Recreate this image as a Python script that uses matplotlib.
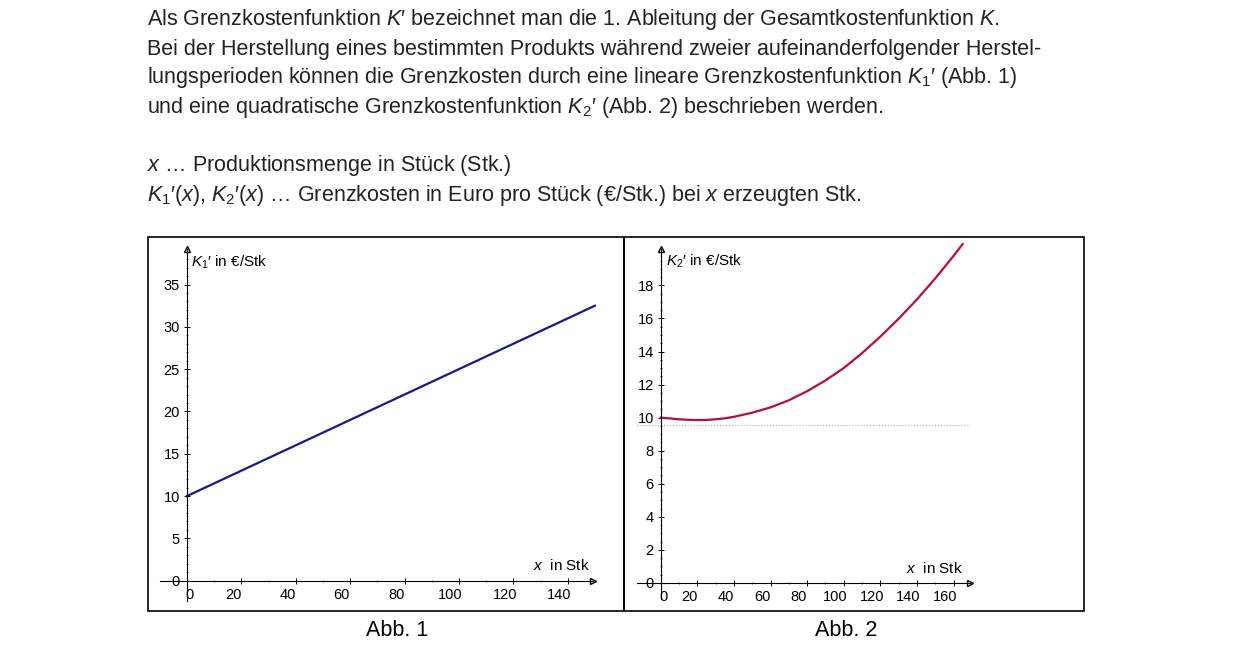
import numpy as np
import matplotlib.pyplot as plt
from matplotlib.patches import Rectangle
from matplotlib.transforms import ScaledTranslation

plt.rcParams['font.family'] = 'Liberation Sans'
plt.rcParams['mathtext.fontset'] = 'custom'
plt.rcParams['mathtext.rm'] = 'Liberation Sans'
plt.rcParams['mathtext.it'] = 'Liberation Sans:italic'

# daten
x1 = [0, 150]
k1 = [10, 32.5]

x2 = [0, 5, 10, 15, 20, 25, 30, 35, 40, 50, 60, 70, 80, 90, 100, 110, 120, 130, 140, 150, 160, 165]
k2 = [10.0, 9.95, 9.9, 9.87, 9.85, 9.86, 9.9, 9.96, 10.05, 10.3, 10.62, 11.05, 11.6, 12.25, 13.0, 13.9, 14.9, 15.98, 17.15, 18.42, 19.78, 20.5]
dotted_y = 9.58

W, H = 1240, 649
fig = plt.figure(figsize=(W / 100, H / 100), dpi=100)

def fx(px):
    return px / W

def fy(py):
    return 1 - py / H

# text oben
lines = [
    (20, "Als Grenzkostenfunktion $K$′ bezeichnet man die 1. Ableitung der Gesamtkostenfunktion $K$."),
    (49, "Bei der Herstellung eines bestimmten Produkts während zweier aufeinanderfolgender Herstel-"),
    (78, "lungsperioden können die Grenzkosten durch eine lineare Grenzkostenfunktion $K_1$′ (Abb. 1)"),
    (107, "und eine quadratische Grenzkostenfunktion $K_2$′ (Abb. 2) beschrieben werden."),
    (165, "$x$ … Produktionsmenge in Stück (Stk.)"),
    (195, "$K_1$′($x$), $K_2$′($x$) … Grenzkosten in Euro pro Stück (€/Stk.) bei $x$ erzeugten Stk."),
]
for py, t in lines:
    fig.text(fx(147), fy(py), t, fontsize=15.5, va='center', ha='left', color='#222222')

# rahmen
for x0, x1p in [(148, 624), (624, 1084)]:
    fig.patches.append(Rectangle((fx(x0), fy(611)), fx(x1p - x0), (611 - 237) / H,
                                 transform=fig.transFigure, fill=False, lw=1.2, ec='black'))

fig.text(fx(397), fy(630), "Abb. 1", fontsize=15.5, ha='center', va='center')
fig.text(fx(846), fy(630), "Abb. 2", fontsize=15.5, ha='center', va='center')


def setup(ax, xlim, ylim, xticks, yticks, xminor, yminor):
    ax.set_xlim(*xlim)
    ax.set_ylim(*ylim)
    ax.patch.set_visible(False)
    for s in ['top', 'right']:
        ax.spines[s].set_visible(False)
    ax.spines['left'].set_position(('data', 0))
    ax.spines['bottom'].set_position(('data', 0))
    ax.spines['left'].set_linewidth(0.8)
    ax.spines['bottom'].set_linewidth(0.8)
    ax.set_xticks(xticks)
    ax.set_yticks(yticks)
    ax.set_xticks(xminor, minor=True)
    ax.set_yticks(yminor, minor=True)
    ax.tick_params(direction='inout', length=4, width=0.7, labelsize=10.5, pad=3)
    ax.tick_params(which='minor', direction='inout', length=2, width=0.5)
    ax.set_xticklabels([str(v) for v in xticks])
    ax.set_yticklabels([str(v) for v in yticks])
    off = ScaledTranslation(-6 / 72, 0, fig.dpi_scale_trans)
    for lab in ax.get_xticklabels():
        lab.set_transform(lab.get_transform() + off)
    first = ax.get_xticklabels()[0]
    first.set_transform(first.get_transform() + ScaledTranslation(8 / 72, 0, fig.dpi_scale_trans))
    ax.plot(1, 0, '>', transform=ax.get_yaxis_transform(), clip_on=False, color='k', ms=4, mfc='none')
    ax.plot(0, 1, '^', transform=ax.get_xaxis_transform(), clip_on=False, color='k', ms=4, mfc='none')


# Abb. 1
ax1 = fig.add_axes([fx(160), fy(601), fx(433), (601 - 249) / H])
setup(ax1, (-9.9, 149.3), (-2.4, 39.2), list(range(0, 141, 20)), list(range(0, 36, 5)),
      list(range(0, 150, 10)), list(range(0, 39, 1)))
ax1.plot(x1, k1, color='#1a1a80', lw=1.6, clip_on=False)
ax1.text(1.5, 38.7, "$K_1$′ in €/Stk", fontsize=11, va='top')
ax1.text(148, 0.9, "$x$  in Stk", fontsize=11, ha='right', va='bottom')

# Abb. 2
ax2 = fig.add_axes([fx(637), fy(599), fx(333), (599 - 249) / H])
setup(ax2, (-13, 169), (-0.97, 20.2), list(range(0, 161, 20)), list(range(0, 19, 2)),
      list(range(0, 170, 10)), [v / 2 for v in range(0, 40)])
ax2.axhline(dotted_y, color='#aaaaaa', lw=0.8, ls=':', xmin=0, xmax=1)
ax2.plot(x2, k2, color='#b0103c', lw=1.6, clip_on=False)
ax2.text(3, 20.0, "$K_2$′ in €/Stk", fontsize=11, va='top')
ax2.text(165, 0.4, "$x$  in Stk", fontsize=11, ha='right', va='bottom')

fig.savefig("out.png", dpi=100)
